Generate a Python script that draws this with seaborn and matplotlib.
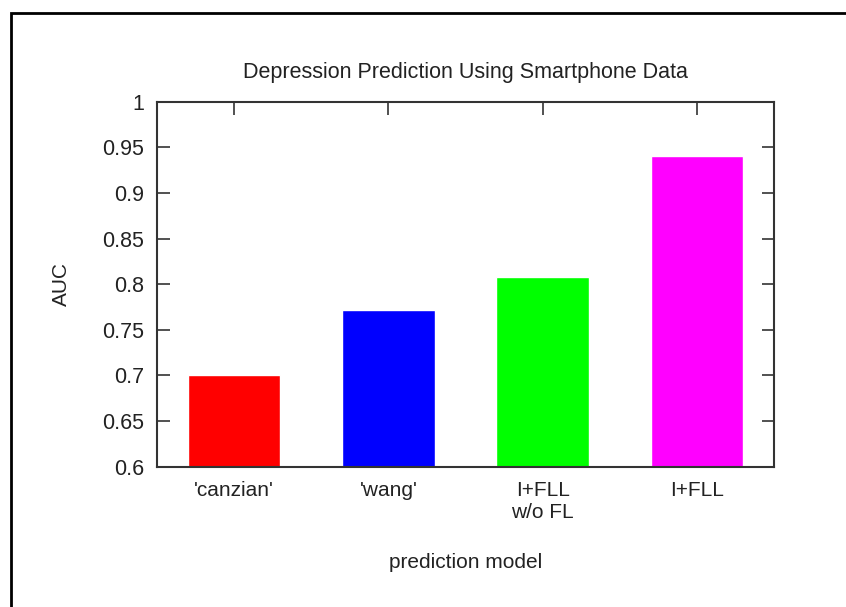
import pandas as pd
import matplotlib.pyplot as plt
import seaborn as sns
from matplotlib.patches import Rectangle

# values
models = ["'canzian'", "'wang'", "I+FLL\nw/o FL", "I+FLL"]
auc = [0.701, 0.772, 0.808, 0.941]
bar_colors = ["#ff0000", "#0000ff", "#00ff00", "#ff00ff"]
y_ticks = [0.6, 0.65, 0.7, 0.75, 0.8, 0.85, 0.9, 0.95, 1.0]
y_tick_labels = ["0.6", "0.65", "0.7", "0.75", "0.8", "0.85", "0.9", "0.95", "1"]

df = pd.DataFrame({'model': models, 'auc': auc})

sns.set_style('white')
plt.rcParams['font.family'] = ['Liberation Sans', 'DejaVu Sans']
plt.rcParams['text.color'] = '#222222'
plt.rcParams['axes.labelcolor'] = '#222222'

fig = plt.figure(figsize=(8.46, 6.07), dpi=100)
ax = fig.add_axes([0.1856, 0.2311, 0.7293, 0.6014])

sns.barplot(data=df, x='model', y='auc', hue='model', palette=bar_colors,
            width=0.6, legend=False, saturation=1, ax=ax)

ax.set_xlim(-0.5, 3.5)
ax.set_ylim(0.6, 1.0)
ax.set_yticks(y_ticks)
ax.set_yticklabels(y_tick_labels)
# bars cover the bottom tick marks, like gnuplot
ax.set_axisbelow(True)

# gnuplot style: inward ticks, mirrored
ax.tick_params(axis='y', direction='in', length=9, width=1.2, colors='#333333',
               labelcolor='#222222', labelsize=15.5, pad=9.5, right=True, left=True)
ax.tick_params(axis='x', direction='in', length=9, width=1.2, colors='#333333',
               labelcolor='#222222', labelsize=15, pad=10.5, top=True, bottom=True)

for side in ['left', 'right', 'top', 'bottom']:
    ax.spines[side].set_visible(True)
    ax.spines[side].set_color('#333333')
    ax.spines[side].set_linewidth(1.5)

ax.set_title('Depression Prediction Using Smartphone Data', fontsize=15.5, pad=17)
ax.set_xlabel('prediction model', fontsize=15, labelpad=22)
ax.set_ylabel('AUC', fontsize=15, labelpad=22)

# outer frame, cut off at the right and bottom
fig.patches.append(Rectangle((0.0127, -0.2), 1.5, 0.9781 + 0.2,
                             transform=fig.transFigure, fill=False,
                             edgecolor='black', linewidth=2.0))

fig.savefig('out.png', dpi=100)
